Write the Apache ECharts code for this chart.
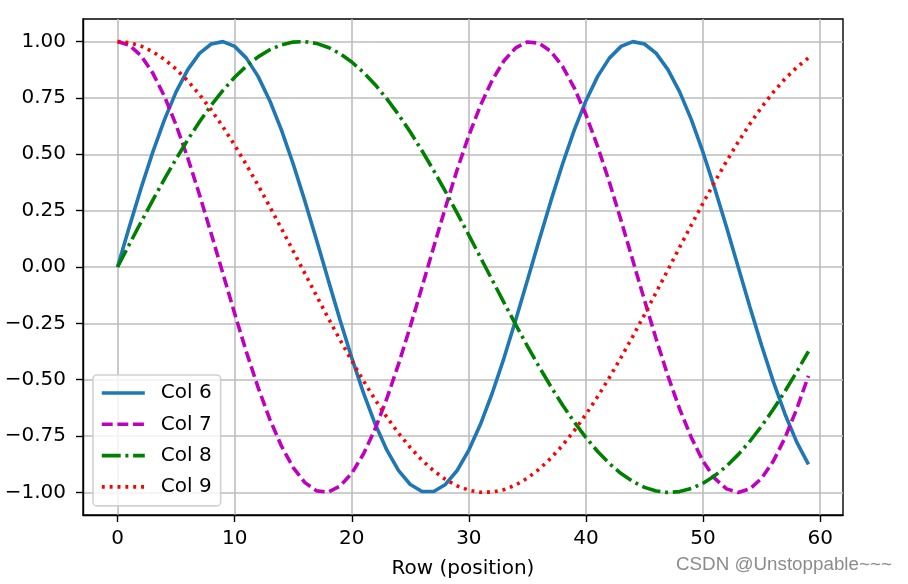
<!DOCTYPE html>
<html>
<head>
<meta charset="utf-8">
<script src="https://cdn.jsdelivr.net/npm/echarts@6/dist/echarts.min.js"></script>
<style>html,body{margin:0;padding:0;background:#fff;}#c{width:908px;height:584px;}</style>
</head>
<body>
<div id="c"></div>
<script>
const rows = Array.from({length: 60}, (_, i) => i);
const col6 = [0, 0.1769, 0.3482, 0.5085, 0.6528, 0.7767, 0.8756, 0.9473, 0.9891, 0.9996, 0.9786, 0.9264, 0.8455, 0.7378, 0.6069, 0.4567, 0.2921, 0.1183, -0.0593, -0.2349, -0.4032, -0.5586, -0.6965, -0.8125, -0.9029, -0.9647, -0.9960, -0.9960, -0.9645, -0.9027, -0.8121, -0.6966, -0.5589, -0.4039, -0.2348, -0.0592, 0.1183, 0.2921, 0.4567, 0.6069, 0.7378, 0.8455, 0.9264, 0.9786, 0.9996, 0.9891, 0.9474, 0.8756, 0.7769, 0.6535, 0.5081, 0.3481, 0.1770, -0.0001, -0.1770, -0.3483, -0.5086, -0.6529, -0.7768, -0.8757];
const col7 = [1, 0.9842, 0.9374, 0.8610, 0.7575, 0.6299, 0.4830, 0.3204, 0.1476, -0.0297, -0.2058, -0.3765, -0.5340, -0.6750, -0.7948, -0.8896, -0.9564, -0.9930, -0.9982, -0.9720, -0.9151, -0.8295, -0.7176, -0.5830, -0.4299, -0.2634, -0.0888, 0.0889, 0.2638, 0.4313, 0.5836, 0.7175, 0.8292, 0.9148, 0.9720, 0.9982, 0.9930, 0.9564, 0.8896, 0.7948, 0.6750, 0.5340, 0.3765, 0.2058, 0.0295, -0.1477, -0.3204, -0.4831, -0.6296, -0.7569, -0.8613, -0.9375, -0.9842, -1.0000, -0.9842, -0.9374, -0.8610, -0.7574, -0.6298, -0.4829];
const col8 = [0, 0.0998, 0.1987, 0.2955, 0.3894, 0.4794, 0.5646, 0.6442, 0.7174, 0.7833, 0.8415, 0.8912, 0.9320, 0.9636, 0.9854, 0.9975, 0.9996, 0.9917, 0.9738, 0.9463, 0.9093, 0.8632, 0.8085, 0.7457, 0.6755, 0.5985, 0.5155, 0.4274, 0.3350, 0.2392, 0.1411, 0.0416, -0.0584, -0.1577, -0.2555, -0.3508, -0.4425, -0.5298, -0.6119, -0.6878, -0.7568, -0.8183, -0.8716, -0.9162, -0.9516, -0.9775, -0.9937, -1.0000, -0.9962, -0.9825, -0.9589, -0.9258, -0.8835, -0.8323, -0.7728, -0.7055, -0.6313, -0.5507, -0.4646, -0.3739];
const col9 = [1, 0.9950, 0.9801, 0.9553, 0.9211, 0.8776, 0.8253, 0.7648, 0.6967, 0.6216, 0.5403, 0.4536, 0.3624, 0.2675, 0.1700, 0.0707, -0.0292, -0.1288, -0.2272, -0.3233, -0.4161, -0.5048, -0.5885, -0.6663, -0.7374, -0.8011, -0.8569, -0.9041, -0.9422, -0.9710, -0.9900, -0.9991, -0.9983, -0.9875, -0.9668, -0.9365, -0.8968, -0.8481, -0.7910, -0.7259, -0.6536, -0.5748, -0.4903, -0.4008, -0.3073, -0.2108, -0.1122, -0.0124, 0.0875, 0.1865, 0.2837, 0.3780, 0.4685, 0.5544, 0.6347, 0.7087, 0.7756, 0.8347, 0.8855, 0.9275];
const seriesNames = ['Col 6', 'Col 7', 'Col 8', 'Col 9'];
const xTicks = [0, 10, 20, 30, 40, 50, 60];
const yTicks = [-1, -0.75, -0.5, -0.25, 0, 0.25, 0.5, 0.75, 1];

const FONT = 'DejaVu Sans';
const FS = 20;
const LW = 3.6;
const pair = (ys) => rows.map((x, i) => [x, ys[i]]);
const styles = [
  {color: '#1f77b4', type: 'solid'},
  {color: '#bf00bf', type: [10.9, 4.7]},
  {color: '#008000', type: [18.9, 4.7, 3, 4.7]},
  {color: '#ff0000', type: [2.95, 4.9]}
];
const datas = [col6, col7, col8, col9];

const chart = echarts.init(document.getElementById('c'), null, {renderer: 'canvas'});
chart.setOption({
  animation: false,
  backgroundColor: '#ffffff',
  grid: {left: 83, right: 65, top: 19, bottom: 69, show: true, borderColor: '#000', borderWidth: 1.4, backgroundColor: 'transparent', containLabel: false},
  xAxis: {
    type: 'value', min: -2.95, max: 61.95,
    name: 'Row (position)', nameLocation: 'middle', nameGap: 44,
    nameTextStyle: {fontFamily: FONT, fontSize: FS, color: '#000'},
    axisLine: {show: true, onZero: false, lineStyle: {color: '#000', width: 1.4}},
    axisTick: {show: true, inside: false, length: 7, customValues: xTicks, lineStyle: {color: '#000', width: 1.4}},
    axisLabel: {customValues: xTicks, margin: 14, fontFamily: FONT, fontSize: FS, color: '#000', formatter: v => String(v)},
    splitLine: {show: true, lineStyle: {color: '#bdbdbd', width: 1.6}}
  },
  yAxis: {
    type: 'value', min: -1.1, max: 1.1,
    axisLine: {show: true, onZero: false, lineStyle: {color: '#000', width: 1.4}},
    axisTick: {show: true, inside: false, length: 7, customValues: yTicks, lineStyle: {color: '#000', width: 1.4}},
    axisLabel: {customValues: yTicks, margin: 17, fontFamily: FONT, fontSize: FS, color: '#000',
      formatter: v => (v < 0 ? '\u2212' : '') + Math.abs(v).toFixed(2)},
    splitLine: {show: true, lineStyle: {color: '#bdbdbd', width: 1.6}}
  },
  legend: {
    orient: 'vertical', left: 93, top: 375,
    data: seriesNames,
    itemWidth: 43, itemHeight: 20, itemGap: 11.3,
    padding: [8, 9, 9, 7],
    backgroundColor: 'rgba(255,255,255,0.8)',
    borderColor: 'rgba(204,204,204,0.9)', borderWidth: 1.6, borderRadius: 4,
    itemStyle: {opacity: 0},
    lineStyle: {width: LW},
    textStyle: {fontFamily: FONT, fontSize: FS, color: '#000', padding: [0, 0, 0, 11]}
  },
  graphic: [{
    type: 'text', left: 676, top: 555,
    style: {text: 'CSDN @Unstoppable~~~', fontFamily: 'Liberation Sans', fontSize: 18.8, fill: '#8c8c8c'}
  }],
  series: datas.map((d, k) => ({
    name: seriesNames[k], type: 'line', data: pair(d),
    symbol: 'none', showSymbol: false, smooth: false,
    color: styles[k].color,
    lineStyle: {color: styles[k].color, width: LW, type: styles[k].type, cap: 'butt'},
    z: 2 + k
  }))
});
</script>
</body>
</html>
